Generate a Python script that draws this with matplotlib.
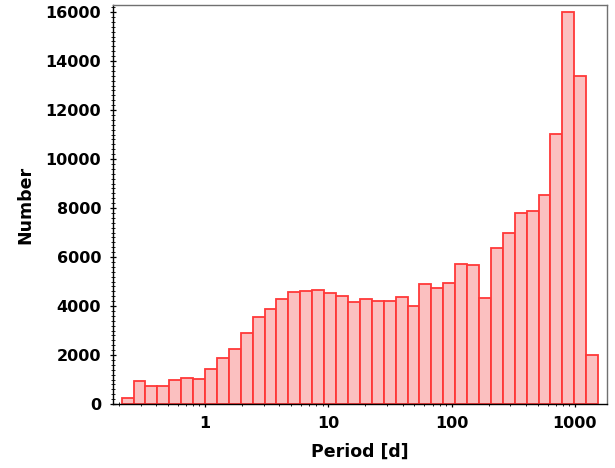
import numpy as np
import matplotlib
matplotlib.use("Agg")
import matplotlib.pyplot as plt
from matplotlib.ticker import FixedLocator, NullFormatter, MultipleLocator, LogLocator

# Histogram counts per log-spaced period bin (40 bins)
counts = [260, 950, 735, 735, 990, 1050, 1030, 1415, 1890, 2260,
          2910, 3540, 3890, 4300, 4570, 4600, 4665, 4530, 4410, 4180,
          4300, 4220, 4220, 4370, 4015, 4885, 4720, 4925, 5715, 5660,
          4340, 6355, 6965, 7780, 7890, 8530, 11035, 15990, 13400, 1985]
log_period_min = -0.676
log_period_max = 3.188
xticks = [1, 10, 100, 1000]
xticklabels = ["1", "10", "100", "1000"]
yticks = [0, 2000, 4000, 6000, 8000, 10000, 12000, 14000, 16000]

edges = np.logspace(log_period_min, log_period_max, len(counts) + 1)

plt.rcParams['font.family'] = ['DejaVu Sans']
fig = plt.figure(figsize=(6.15, 4.68), dpi=100)
ax = fig.add_axes([113/615, 1 - 404/468, (607-113)/615, (404-5)/468])

ax.bar(edges[:-1], counts, width=np.diff(edges), align='edge',
       facecolor='#fbc0c0', edgecolor='#ff3838', linewidth=1.3, zorder=2)

ax.set_xscale('log')
ax.set_xlim(0.1794, 1821)
ax.set_ylim(0, 16290)

ax.xaxis.set_major_locator(FixedLocator(xticks))
ax.set_xticklabels(xticklabels)
ax.xaxis.set_minor_locator(LogLocator(base=10, subs=np.arange(2, 10)))
ax.xaxis.set_minor_formatter(NullFormatter())
ax.set_yticks(yticks)
ax.yaxis.set_minor_locator(MultipleLocator(200))

for lab in ax.get_xticklabels() + ax.get_yticklabels():
    lab.set_fontweight('bold')
    lab.set_fontsize(11.5)

ax.tick_params(which='major', direction='inout', length=5, width=0.9, pad=6,
               top=False, right=False)
ax.tick_params(which='minor', direction='inout', length=2.5, width=0.6,
               top=False, right=False)

ax.set_xlabel('Period [d]', fontsize=12.5, fontweight='bold')
ax.set_ylabel('Number', fontsize=12.5, fontweight='bold')
ax.xaxis.set_label_coords(0.5, (404-452)/399)
ax.xaxis.label.set_va('center')
ax.yaxis.set_label_coords((25-113)/494, 0.5)
ax.yaxis.label.set_va('center')

for s in ['top', 'right']:
    ax.spines[s].set_color('#707070')
for s in ['left', 'bottom']:
    ax.spines[s].set_color('black')
for s in ax.spines.values():
    s.set_linewidth(1.0)

fig.savefig('out.png', dpi=100)
